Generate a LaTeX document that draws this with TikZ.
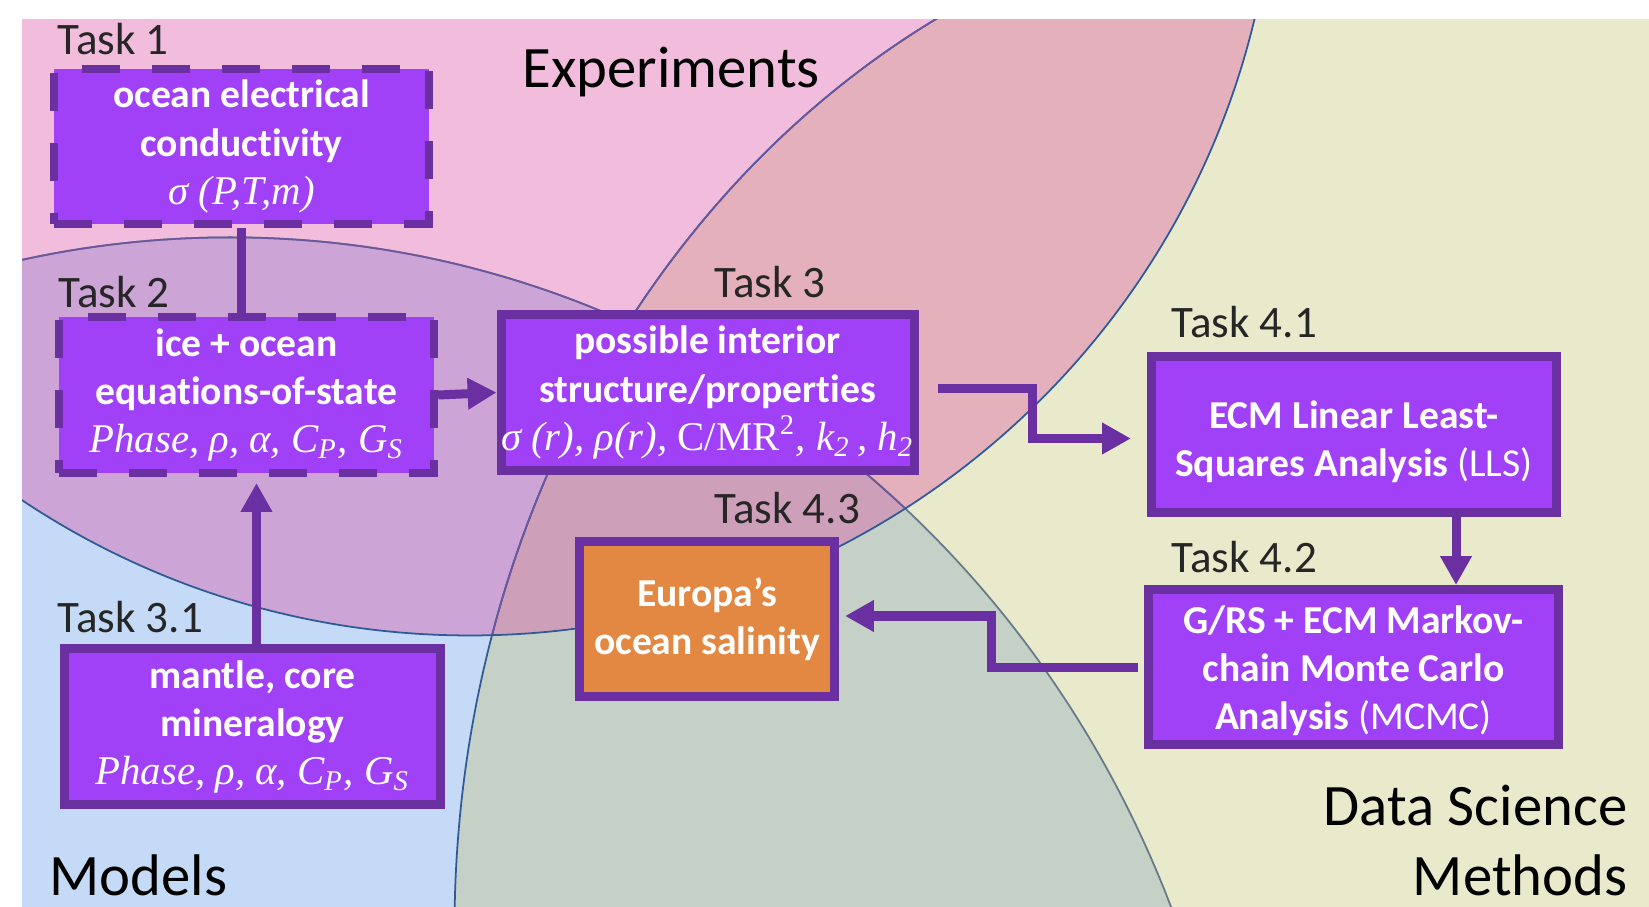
\documentclass[tikz,border=0pt]{standalone}
\usepackage{fontspec}
\setmainfont{Carlito}[Ligatures=NoCommon]
\newfontfamily\serifit{Liberation Serif}
\usepackage{xcolor}
\usepackage{tikz}
\usetikzlibrary{calc, positioning}
\usetikzlibrary{arrows.meta}

\definecolor{expfill}{HTML}{F2BDDC}
\definecolor{modfill}{HTML}{C4DAF6}
\definecolor{datfill}{HTML}{E9E9CC}
\definecolor{expdat}{HTML}{E4B0BC}
\definecolor{expmod}{HTML}{CCA4D6}
\definecolor{moddat}{HTML}{C5D0C7}
\definecolor{allthree}{HTML}{CE9FB8}
\definecolor{rimblue}{HTML}{2F5A98}
\definecolor{rimpurple}{HTML}{6C579F}
\definecolor{rimgrey}{HTML}{667A88}
\definecolor{boxfill}{HTML}{A041F8}
\definecolor{boxedge}{HTML}{6A2FA0}
\definecolor{salinity}{HTML}{E38843}
\definecolor{labelgrey}{HTML}{262626}

\newcommand{\italine}[1]{{\serifit\mdseries\itshape\fontsize{11.6}{13.66}\selectfont #1}}
% the three sets, in pixel units
\newcommand{\regionE}{(470,-168) ellipse [x radius=8.06cm, y radius=8.03cm]}
\newcommand{\regionM}{(230,1304) ellipse [x radius=10.13cm, y radius=10.66cm]}
\newcommand{\regionD}{(1357,930) ellipse [x radius=9.02cm, y radius=10.29cm]}

\tikzset{
  taskbox/.style={draw=boxedge, line width=2.56pt, fill=boxfill, text=white,
    align=center, inner sep=0pt, minimum height=1.56cm,
    font=\bfseries\fontsize{11.25}{13.66}\selectfont},
  dashedbox/.style={taskbox, line width=2.28pt, dash pattern=on 10.8pt off 9.1pt},
  tasklabel/.style={anchor=base west, text=labelgrey, inner sep=0pt,
    font=\fontsize{12.8}{15}\selectfont},
  setlabel/.style={text=black, inner sep=0pt, font=\fontsize{16.7}{20}\selectfont},
  rim/.style={line width=0.5pt},
  link/.style={draw=boxedge, line width=2.56pt},
  flow/.style={link, -{Triangle[width=8.5pt,length=8.2pt]}},
}

\begin{document}
\begin{tikzpicture}[x=0.01cm, y=-0.01cm]
  \useasboundingbox (0,0) rectangle (1649,907);
  \fill[white] (0,0) rectangle (1649,907);
  \clip (0,0) rectangle (1649,907);

  % background sets
  \begin{scope}
    \clip (22,20) rectangle (1649,907);
    \fill[modfill] \regionM;
    \fill[datfill] \regionD;
    \begin{scope}
      \clip \regionM;
      \fill[moddat] \regionD;
    \end{scope}
    \fill[expfill] \regionE;
    \begin{scope}
      \clip \regionE;
      \fill[expmod] \regionM;
      \fill[expdat] \regionD;
      \clip \regionM;
      \fill[allthree] \regionD;
    \end{scope}
    \draw[rim, rimgrey] \regionM;
    \draw[rim, rimblue] \regionD;
    \begin{scope}
      \clip \regionE;
      \draw[rim, rimpurple] \regionM;
      \draw[rim, rimpurple] \regionD;
    \end{scope}
    \draw[rim, rimblue] \regionE;
  \end{scope}

  % tasks
  \node[dashedbox, minimum width=3.75cm, minimum height=1.55cm] (tone) at (241.5,146.5)
    {ocean electrical\\conductivity\\\italine{σ (P,T,m)}};
  \node[dashedbox, minimum width=3.75cm] (ttwo) at (246.5,395)
    {ice + ocean\\equations-of-state\\\italine{Phase, ρ, α, C\textsubscript{P}, G\textsubscript{S}}};
  \node[taskbox, minimum width=4.10cm] (tthree) at (707.5,392.5)
    {possible interior\\structure/properties\\\italine{σ (r), ρ(r), {\upshape C/MR\textsuperscript{2}}, k\textsubscript{2}\,, h\textsubscript{2}}};
  \node[taskbox, fill=salinity, minimum width=2.55cm, minimum height=1.55cm] (tfourthree) at (707,619)
    {Europa’s\\ocean salinity};
  \node[taskbox, minimum width=3.76cm] (tthreeone) at (252.5,726.5)
    {mantle, core\\mineralogy\\\italine{Phase, ρ, α, C\textsubscript{P}, G\textsubscript{S}}};
  \node[taskbox, minimum width=4.05cm] (tfourone) at (1354,434.5)
    {\rule{0pt}{12pt}ECM Linear Least-\\Squares Analysis {\mdseries(LLS)}};
  \node[taskbox, minimum width=4.10cm, minimum height=1.55cm] (tfourtwo) at (1353.5,667)
    {\rule{0pt}{10pt}G/RS + ECM Markov-\\chain Monte Carlo\\Analysis {\mdseries(MCMC)}};

  \node[tasklabel] (lone) at (57,55) {Task 1};
  \node[tasklabel] (ltwo) at (58,308) {Task 2};
  \node[tasklabel] (lthree) at (714,298) {Task 3};
  \node[tasklabel] (lfourthree) at (714,524) {Task 4.3};
  \node[tasklabel] (lthreeone) at (57,632) {Task 3.1};
  \node[tasklabel] (lfourone) at (1171,338) {Task 4.1};
  \node[tasklabel] (lfourtwo) at (1171,573) {Task 4.2};

  \node[setlabel, anchor=base west] (sexp) at (522,88) {Experiments};
  \node[setlabel, anchor=base west] (smod) at (49,895) {Models};
  \node[setlabel, anchor=base east] (sdat) at (1628,825) {Data Science};
  \node[setlabel, anchor=base east] (smeth) at (1628,895) {Methods};

  % connectors
  \draw[link] (tone.south) -- (tone.south |- ttwo.north);
  \draw[flow] ($(tthreeone.north)+(4,0)$) -- ($(ttwo.south)+(10,6)$);
  \draw[flow] (ttwo.east) -- (tthree.west);
  \draw[flow] ($(tthree.east)+(19,-4)$) -| ($(tthree.east)!0.5!(tfourone.west)$)
    |- ($(tfourone.west)+(-16,4)$);
  \draw[flow] ($(tfourone.south)+(102,0)$) -- ($(tfourtwo.north)+(102.5,0)$);
  \draw[flow] ($(tfourtwo.west)+(-6,0)$) -| ($(tfourtwo.west)!0.5!(tfourthree.east)$)
    |- ($(tfourthree.east)+(6,-3)$);
\end{tikzpicture}
\end{document}
